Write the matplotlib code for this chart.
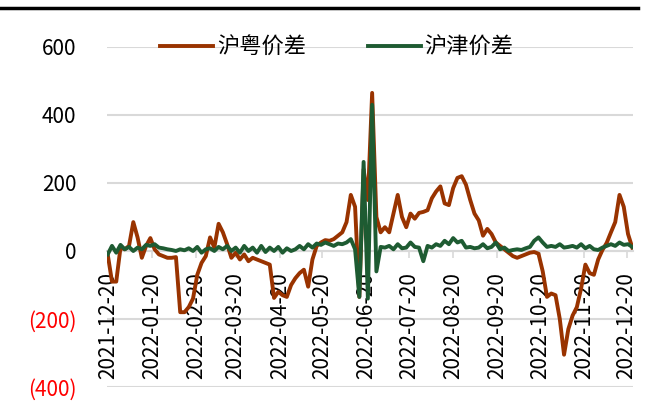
import pandas as pd
import matplotlib.pyplot as plt
from matplotlib.lines import Line2D

plt.rcParams['font.family'] = ['Noto Sans CJK SC', 'DejaVu Sans']

# 数据：每3天一个点，从2021-12-20开始
dates = pd.date_range('2021-12-20', periods=124, freq='3D')

hu_yue = [-10, -90, -90, 10, 5, 15, 85, 40, -20, 15,
          38, 5, -10, -15, -20, -20, -18, -180, -180, -165,
          -140, -70, -35, -15, 40, 10, 80, 55, 20, -20,
          -5, -25, -10, -30, -20, -25, -30, -35, -40, -138,
          -120, -130, -135, -100, -80, -65, -55, -105, -25, 15,
          25, 32, 30, 35, 45, 55, 85, 165, 130, -135,
          240, 150, 465, 100, 55, 70, 55, 110, 165, 100,
          70, 110, 95, 112, 115, 120, 155, 175, 190, 140,
          135, 185, 215, 220, 195, 150, 110, 90, 45, 65,
          50, 25, 15, 5, -5, -15, -20, -15, -10, -5,
          -3, -8, -60, -135, -125, -130, -200, -305, -230, -190,
          -165, -110, -40, -65, -70, -25, 3, 24, 55, 85,
          165, 130, 50, 10]

hu_jin = [-10, 15, -5, 18, 5, 12, 0, 10, 5, 18,
          15, 20, 10, 8, 5, 3, 0, 5, 2, 8,
          0, 12, -5, 5, 8, 0, 12, 5, 15, 0,
          10, -5, 15, 0, 10, -5, 15, -3, 10, 0,
          12, -5, 8, 0, 5, 15, 5, 20, 10, 22,
          18, 25, 20, 15, 22, 20, 25, 35, 5, -135,
          262, -140, 430, -60, 12, 10, 15, 5, 20, 8,
          10, 25, 12, 10, -30, 15, 10, 20, 15, 30,
          20, 38, 25, 30, 10, 12, 8, 10, 20, 8,
          12, 25, 5, 10, 0, 3, 5, 3, 8, 12,
          30, 40, 25, 12, 15, 12, 20, 10, 12, 15,
          10, 20, 8, 15, 5, 3, 10, 15, 20, 15,
          25, 18, 20, 12]

tick_dates = ['2021-12-20', '2022-01-20', '2022-02-20', '2022-03-20', '2022-04-20',
              '2022-05-20', '2022-06-20', '2022-07-20', '2022-08-20', '2022-09-20',
              '2022-10-20', '2022-11-20', '2022-12-20']
y_ticks = [-400, -200, 0, 200, 400, 600]
y_labels = ['(400)', '(200)', '0', '200', '400', '600']

fig = plt.figure(figsize=(6.49, 4.01), dpi=100)
ax = fig.add_axes([107/649, 1-387/401, 526/649, 340/401])

# 网格线手动画在最底层
for yv in y_ticks:
    ax.axhline(yv, color='#D9D9D9', lw=1.5, zorder=1)

ax.plot(dates, hu_yue, color='#993300', lw=2.8, label='沪粤价差', zorder=2)
ax.plot(dates, hu_jin, color='#1E5B32', lw=2.8, label='沪津价差', zorder=2.1)

start = pd.Timestamp('2021-12-20')
ax.set_xlim(start - pd.Timedelta(days=0.5), start + pd.Timedelta(days=369.5))
ax.set_ylim(-400, 600)
ax.set_yticks(y_ticks)
ax.set_yticklabels(y_labels)
for t in ax.get_yticklabels():
    if t.get_text().startswith('('):
        t.set_color('red')

ax.set_xticks(pd.to_datetime(tick_dates))
ax.set_xticklabels(tick_dates)

for s in ['top', 'right', 'left']:
    ax.spines[s].set_visible(False)
ax.spines['bottom'].set_position(('data', 0))
ax.spines['bottom'].set_color('#D9D9D9')
ax.spines['bottom'].set_linewidth(1.5)
ax.spines['bottom'].set_zorder(1)
ax.tick_params(axis='y', length=0, pad=22, labelsize=15)
ax.tick_params(axis='x', direction='out', length=5, color='#D9D9D9', width=1.2,
               pad=10, labelsize=15, labelrotation=90)

ax.legend(loc='center', bbox_to_anchor=(0.437, 1.0), ncol=2, frameon=False,
          fontsize=16, handlelength=2.4, handletextpad=0.15, columnspacing=2.8)

# 顶部黑线
fig.add_artist(Line2D([0, 638/649], [1-8/401, 1-8/401], color='black', lw=2.5))

plt.savefig('out.png', dpi=100)
